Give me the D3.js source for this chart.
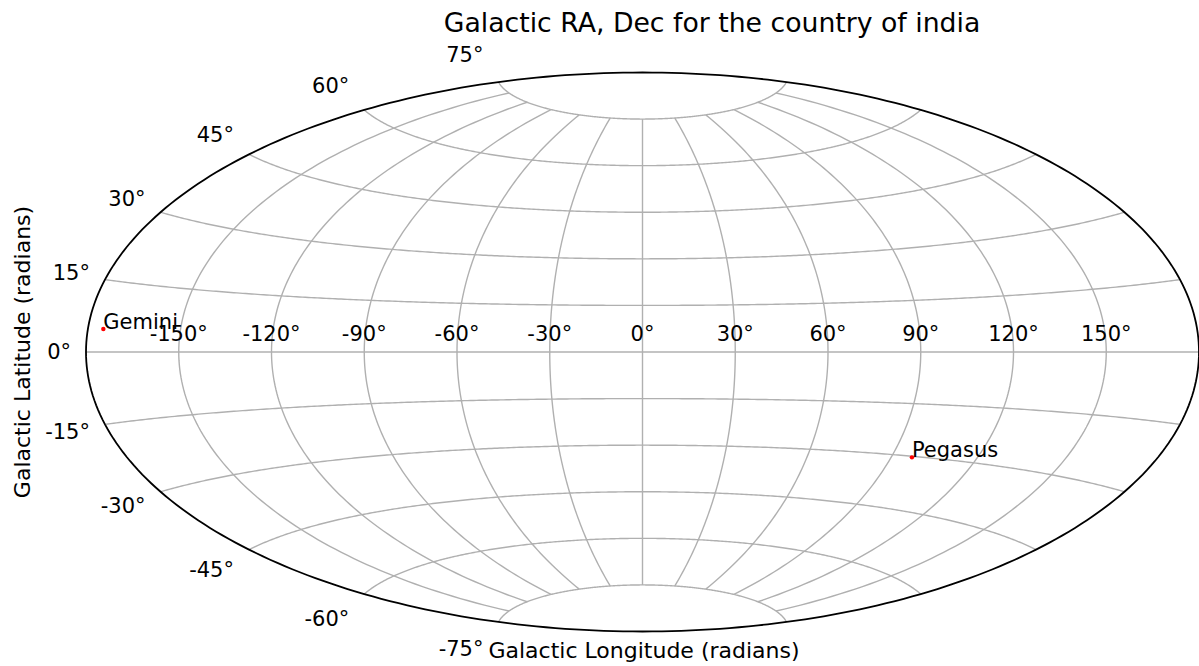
<!DOCTYPE html>
<html>
<head>
<meta charset="utf-8">
<script src="https://cdn.jsdelivr.net/npm/d3@7"></script>
<style>
body { margin: 0; background: #fff; }
text { font-family: "DejaVu Sans", sans-serif; fill: #000; }
</style>
</head>
<body>
<script>
var width = 1199;
var height = 666;

// data (degrees)
var names = ["Gemini", "Pegasus"];
var galLon = [-175, 97.3];
var galLat = [4.85, -30.3];

var lonTicks = [-150, -120, -90, -60, -30, 0, 30, 60, 90, 120, 150];
var latTicks = [-75, -60, -45, -30, -15, 0, 15, 30, 45, 60, 75];

var rad = Math.PI / 180;

function aitoff(lam, phi) {
    var a = Math.acos(Math.cos(phi) * Math.cos(lam / 2));
    var s = a === 0 ? 1 : Math.sin(a) / a;
    return [2 * Math.cos(phi) * Math.sin(lam / 2) / s, Math.sin(phi) / s];
}

var x = d3.scaleLinear().domain([-Math.PI, Math.PI]).range([86, 1199]);
var y = d3.scaleLinear().domain([-Math.PI / 2, Math.PI / 2]).range([631.5, 72.5]);

function proj(lonDeg, latDeg) {
    var p = aitoff(lonDeg * rad, latDeg * rad);
    return [x(p[0]), y(p[1])];
}

var line = d3.line();

var svg = d3.select("body")
    .append("svg")
    .attr("width", width)
    .attr("height", height);

var grid = svg.append("g")
    .attr("fill", "none")
    .attr("stroke", "#b0b0b0")
    .attr("stroke-width", 1.4);

// parallels
latTicks.forEach(function(lat) {
    var pts = d3.range(-180, 180.5, 1).map(function(lon) { return proj(lon, lat); });
    grid.append("path").attr("d", line(pts));
});

// meridians (capped at 75 deg)
lonTicks.forEach(function(lon) {
    var pts = d3.range(-75, 75.5, 1).map(function(lat) { return proj(lon, lat); });
    grid.append("path").attr("d", line(pts));
});

// outline
var outline = d3.range(-90, 90.5, 1).map(function(lat) { return proj(-180, lat); })
    .concat(d3.range(90, -90.5, -1).map(function(lat) { return proj(180, lat); }));
svg.append("path")
    .attr("d", line(outline) + "Z")
    .attr("fill", "none")
    .attr("stroke", "#000")
    .attr("stroke-width", 1.8);

// longitude labels
svg.append("g").selectAll("text")
    .data(lonTicks)
    .enter().append("text")
    .attr("x", function(d) { return proj(d, 0)[0]; })
    .attr("y", function(d) { return proj(d, 0)[1] - 11; })
    .attr("text-anchor", "middle")
    .attr("font-size", 21)
    .text(function(d) { return d + "°"; });

// latitude labels
var y0 = y(0);
svg.append("g").selectAll("text")
    .data(latTicks)
    .enter().append("text")
    .attr("x", function(d) { return proj(-180, d)[0] - 15; })
    .attr("y", function(d) { return y0 + 1.1 * (proj(-180, d)[1] - y0); })
    .attr("dy", "0.35em")
    .attr("text-anchor", "end")
    .attr("font-size", 21)
    .text(function(d) { return d + "°"; });

// points
var pts = svg.append("g");
names.forEach(function(n, i) {
    var p = proj(galLon[i], galLat[i]);
    pts.append("circle")
        .attr("cx", p[0]).attr("cy", p[1]).attr("r", 2.2)
        .attr("fill", "red");
    pts.append("text")
        .attr("x", p[0]).attr("y", p[1])
        .attr("font-size", 21)
        .text(n);
});

// title and axis labels
svg.append("text")
    .attr("x", 712).attr("y", 32)
    .attr("text-anchor", "middle")
    .attr("font-size", 26.7)
    .text("Galactic RA, Dec for the country of india");

svg.append("text")
    .attr("x", 644).attr("y", 658)
    .attr("text-anchor", "middle")
    .attr("font-size", 22)
    .text("Galactic Longitude (radians)");

svg.append("text")
    .attr("transform", "translate(30,352) rotate(-90)")
    .attr("text-anchor", "middle")
    .attr("font-size", 22)
    .text("Galactic Latitude (radians)");
</script>
</body>
</html>
